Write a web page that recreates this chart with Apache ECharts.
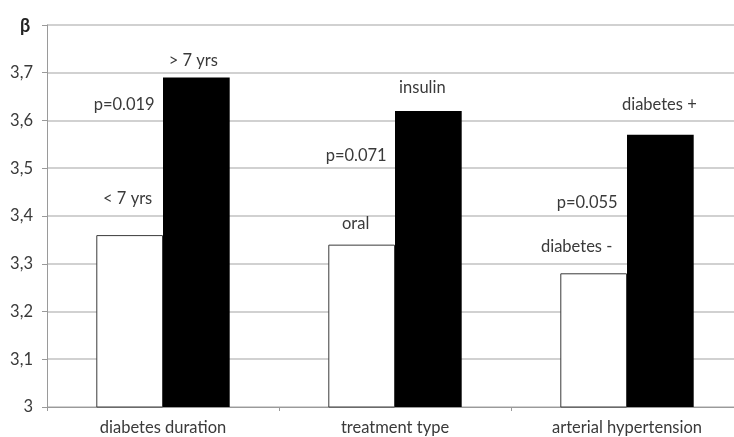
<!DOCTYPE html>
<html>
<head>
<meta charset="utf-8">
<script src="https://cdn.jsdelivr.net/npm/echarts@6/dist/echarts.min.js"></script>
<style>
  html, body { margin: 0; padding: 0; background: #fff; }
  #chart { width: 734px; height: 437px; }
</style>
</head>
<body>
<div id="chart"></div>
<script>
// Mean beta by subgroup, two bars per factor
var categories = ['diabetes duration', 'treatment type', 'arterial hypertension'];
var lowGroupNames = ['< 7 yrs', 'oral', 'diabetes -'];
var highGroupNames = ['> 7 yrs', 'insulin', 'diabetes +'];
var lowGroupValues = [3.36, 3.34, 3.28];
var highGroupValues = [3.69, 3.62, 3.57];
var pValueTexts = ['p=0.019', 'p=0.071', 'p=0.055'];
var pValueLevels = [3.633, 3.526, 3.428];

var FONT = 'Lato';
var FS = 16.5;
var TEXT = '#3a3a3a';

// label nudges for each group name above its bar
var lowOffsets = [[-2, -23], [-6, -7], [-17, -13]];
var highOffsets = [[-3, -3], [-6, -10], [-1, -17]];
// p-value text is right-aligned just left of the black bar
var pOffsets = [[25, 0], [25, 0], [24, 0]];

function barData(values, names, offsets) {
  return values.map(function (v, i) {
    return {
      value: v,
      label: {
        show: true,
        position: 'top',
        formatter: names[i],
        offset: offsets[i]
      }
    };
  });
}

var chart = echarts.init(document.getElementById('chart'), null, { renderer: 'canvas' });
chart.setOption({
  animation: false,
  backgroundColor: '#ffffff',
  textStyle: { fontFamily: FONT },
  title: {
    text: 'β',
    left: 15,
    top: 12,
    textStyle: { fontFamily: FONT, fontSize: 18, fontWeight: 'bold', color: '#222' }
  },
  // plot area runs past the right edge of the canvas
  grid: { left: 47, right: -9, top: 25, bottom: 30, containLabel: false, outerBoundsMode: 'none' },
  xAxis: {
    type: 'category',
    data: categories,
    axisLine: { show: true, lineStyle: { color: '#9a9a9a', width: 1 } },
    axisTick: { show: true, length: 4, alignWithLabel: false, lineStyle: { color: '#9a9a9a' } },
    axisLabel: { color: TEXT, fontFamily: FONT, fontSize: FS, margin: 12 }
  },
  yAxis: {
    type: 'value',
    min: 3,
    max: 3.8,
    interval: 0.1,
    axisLine: { show: true, lineStyle: { color: '#9a9a9a', width: 1 } },
    axisTick: { show: true, length: 5, inside: false, lineStyle: { color: '#9a9a9a' } },
    splitLine: { show: true, lineStyle: { color: '#c2c2c2', width: 1.5 } },
    axisLabel: {
      color: TEXT,
      fontFamily: FONT,
      fontSize: FS,
      margin: 14,
      formatter: function (v) {
        if (v > 3.75) return '';
        var s = (Math.round(v * 10) / 10).toString();
        return s.replace('.', ',');
      }
    }
  },
  series: [
    {
      name: 'low',
      type: 'bar',
      data: barData(lowGroupValues, lowGroupNames, lowOffsets),
      barGap: '0%',
      barCategoryGap: '42.5%',
      itemStyle: { color: '#ffffff', borderColor: '#3a3a3a', borderWidth: 1 },
      label: { color: TEXT, fontFamily: FONT, fontSize: FS },
      markPoint: {
        symbol: 'circle',
        symbolSize: 0,
        itemStyle: { color: 'transparent' },
        label: {
          show: true,
          position: 'inside',
          align: 'right',
          color: TEXT,
          fontFamily: FONT,
          fontSize: FS
        },
        data: pValueTexts.map(function (t, i) {
          return {
            coord: [i, pValueLevels[i]],
            value: t,
            label: { formatter: t, offset: pOffsets[i] }
          };
        })
      }
    },
    {
      name: 'high',
      type: 'bar',
      data: barData(highGroupValues, highGroupNames, highOffsets),
      itemStyle: { color: '#000000', borderColor: '#000000', borderWidth: 0 },
      label: { color: TEXT, fontFamily: FONT, fontSize: FS }
    }
  ]
});
</script>
</body>
</html>
